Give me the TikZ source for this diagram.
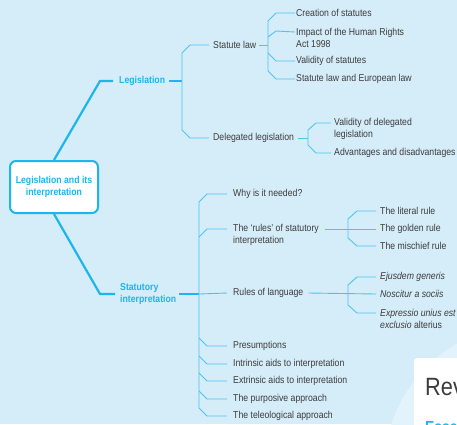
\documentclass[tikz,border=0pt]{standalone}
\usepackage{fontspec}
\newfontfamily\cond{Liberation Sans}[FakeStretch=0.87]
\definecolor{bg}{HTML}{D5ECF9}
\definecolor{circ}{HTML}{E2F3FC}
\definecolor{cyanM}{HTML}{1DB5EC}
\definecolor{cyanL}{HTML}{4EC3F1}
\definecolor{txtgray}{HTML}{3C3C3C}
\tikzset{
  mainline/.style={draw=cyanM, line width=2.2pt},
  subline/.style={draw=cyanL, line width=0.9pt},
  lbl/.style={font=\cond\fontsize{10}{12}\selectfont, text=txtgray, inner sep=0pt, anchor=west, align=left},
  hd/.style={font=\cond\bfseries\fontsize{10}{12}\selectfont, text=cyanM, inner sep=0pt, align=left},
}
\begin{document}
\begin{tikzpicture}[x=1pt,y=-1pt]
\fill[bg] (0,0) rectangle (457,424);
\useasboundingbox (0,0) rectangle (457,424);
\begin{scope}
\clip (0,0) rectangle (457,424);
\fill[circ] (530,470) circle (146);
\fill[white, rounded corners=3pt] (414,358) rectangle (480,450);
\node[anchor=base west, inner sep=0pt, font=\cond\fontsize{25}{28}\selectfont, text=txtgray] (rev) at (425,395) {Rev};
\node[anchor=base west, inner sep=0pt, font=\cond\bfseries\fontsize{16}{18}\selectfont, text=cyanM] (ess) at (425,432) {Esse};
\end{scope}

% root
\node[draw=cyanM, line width=2pt, fill=white, rounded corners=6pt, minimum width=88pt, minimum height=52pt, hd, align=center] (root) at (54,187) {Legislation and its\\interpretation};

% Legislation branch
\node[hd, anchor=west] (leg) at (119,81) {Legislation};
\coordinate (legk) at (100,81);
\draw[mainline] (root.north) -- (legk) -- ([xshift=-6pt]leg.west);
\coordinate (legb) at (182,81);
\draw[mainline] ([xshift=4pt]leg.east) -- (legb);

\node[lbl] (statute) at (213,45) {Statute law};
\node[lbl] (deleg) at (213,138) {Delegated legislation};
\draw[subline] ([xshift=-4pt]statute.west) -- (190,45) -- (182,53) -- (182,130) -- (190,138) -- ([xshift=-4pt]deleg.west);

\node[lbl] (c1) at (296,13) {Creation of statutes};
\node[lbl] (c2) at (296,38) {Impact of the Human Rights\\Act 1998};
\node[lbl] (c3) at (296,61) {Validity of statutes};
\node[lbl] (c4) at (296,79) {Statute law and European law};
\draw[subline] ([xshift=3pt]statute.east) -- (268,45);
\draw[subline] ([xshift=-1pt]c1.west) -- (276,13) -- (268,21) -- (268,71) -- (276,79) -- ([xshift=-1pt]c4.west);
\draw[subline] (268,37) -- (276,31) -- ([xshift=-1pt,yshift=6pt]c2.west);
\draw[subline] (268,53) -- (276,61) -- ([xshift=-1pt]c3.west);

\node[lbl] (d1) at (334,129) {Validity of delegated\\legislation};
\node[lbl] (d2) at (334,153) {Advantages and disadvantages};
\draw[subline] ([xshift=4pt]deleg.east) -- (308,138);
\draw[subline] ([xshift=-3pt,yshift=6pt]d1.west) -- (316,123) -- (308,130) -- (308,145) -- (316,153) -- ([xshift=-3pt]d2.west);

% Statutory interpretation branch
\node[hd, anchor=west] (stat) at (120,294) {Statutory\\interpretation};
\coordinate (statk) at (100,294);
\draw[mainline] (root.south) -- (statk) -- ([xshift=-5pt]stat.west);
\coordinate (statb) at (199,294);
\draw[mainline] ([xshift=3pt]stat.east) -- (statb);

\node[lbl] (why) at (233,194) {Why is it needed?};
\node[lbl] (rules) at (233,235) {The ‘rules’ of statutory\\interpretation};
\node[lbl] (rl) at (233,293) {Rules of language};
\node[lbl] (pres) at (233,346) {Presumptions};
\node[lbl] (intr) at (233,364) {Intrinsic aids to interpretation};
\node[lbl] (extr) at (233,381) {Extrinsic aids to interpretation};
\node[lbl] (purp) at (233,399) {The purposive approach};
\node[lbl] (tele) at (233,416) {The teleological approach};

\draw[subline] ([xshift=-6pt]why.west) -- (207,194) -- (199,202) -- (199,408) -- (207,416) -- ([xshift=-6pt]tele.west);
\draw[subline] (199,237) -- (207,229) -- ([xshift=-6pt,yshift=6pt]rules.west);
\draw[subline] (statb) -- ([xshift=-6pt]rl.west);
\draw[subline] (199,338) -- (207,346) -- ([xshift=-6pt]pres.west);
\draw[subline] (199,356) -- (207,364) -- ([xshift=-6pt]intr.west);
\draw[subline] (199,373) -- (207,381) -- ([xshift=-6pt]extr.west);
\draw[subline] (199,391) -- (207,399) -- ([xshift=-6pt]purp.west);

\node[lbl] (lit) at (380,211) {The literal rule};
\node[lbl] (gold) at (380,229) {The golden rule};
\node[lbl] (misc) at (380,246) {The mischief rule};
\draw[subline] ([xshift=6pt,yshift=6pt]rules.east) -- ([xshift=-4pt]gold.west);
\draw[subline] ([xshift=-4pt]lit.west) -- (357,211) -- (348,219) -- (348,238) -- (357,246) -- ([xshift=-4pt]misc.west);

\node[lbl] (ejus) at (380,277) {\itshape Ejusdem generis};
\node[lbl] (nosc) at (380,294) {\itshape Noscitur a sociis};
\node[lbl] (expr) at (380,319) {\itshape Expressio unius est\\\itshape exclusio\upshape{} alterius};
\draw[subline] ([xshift=5pt]rl.east) -- ([xshift=-4pt]nosc.west);
\draw[subline] ([xshift=-4pt]ejus.west) -- (357,277) -- (348,285) -- (348,305) -- (357,313) -- ([xshift=-4pt,yshift=6pt]expr.west);
\end{tikzpicture}
\end{document}
